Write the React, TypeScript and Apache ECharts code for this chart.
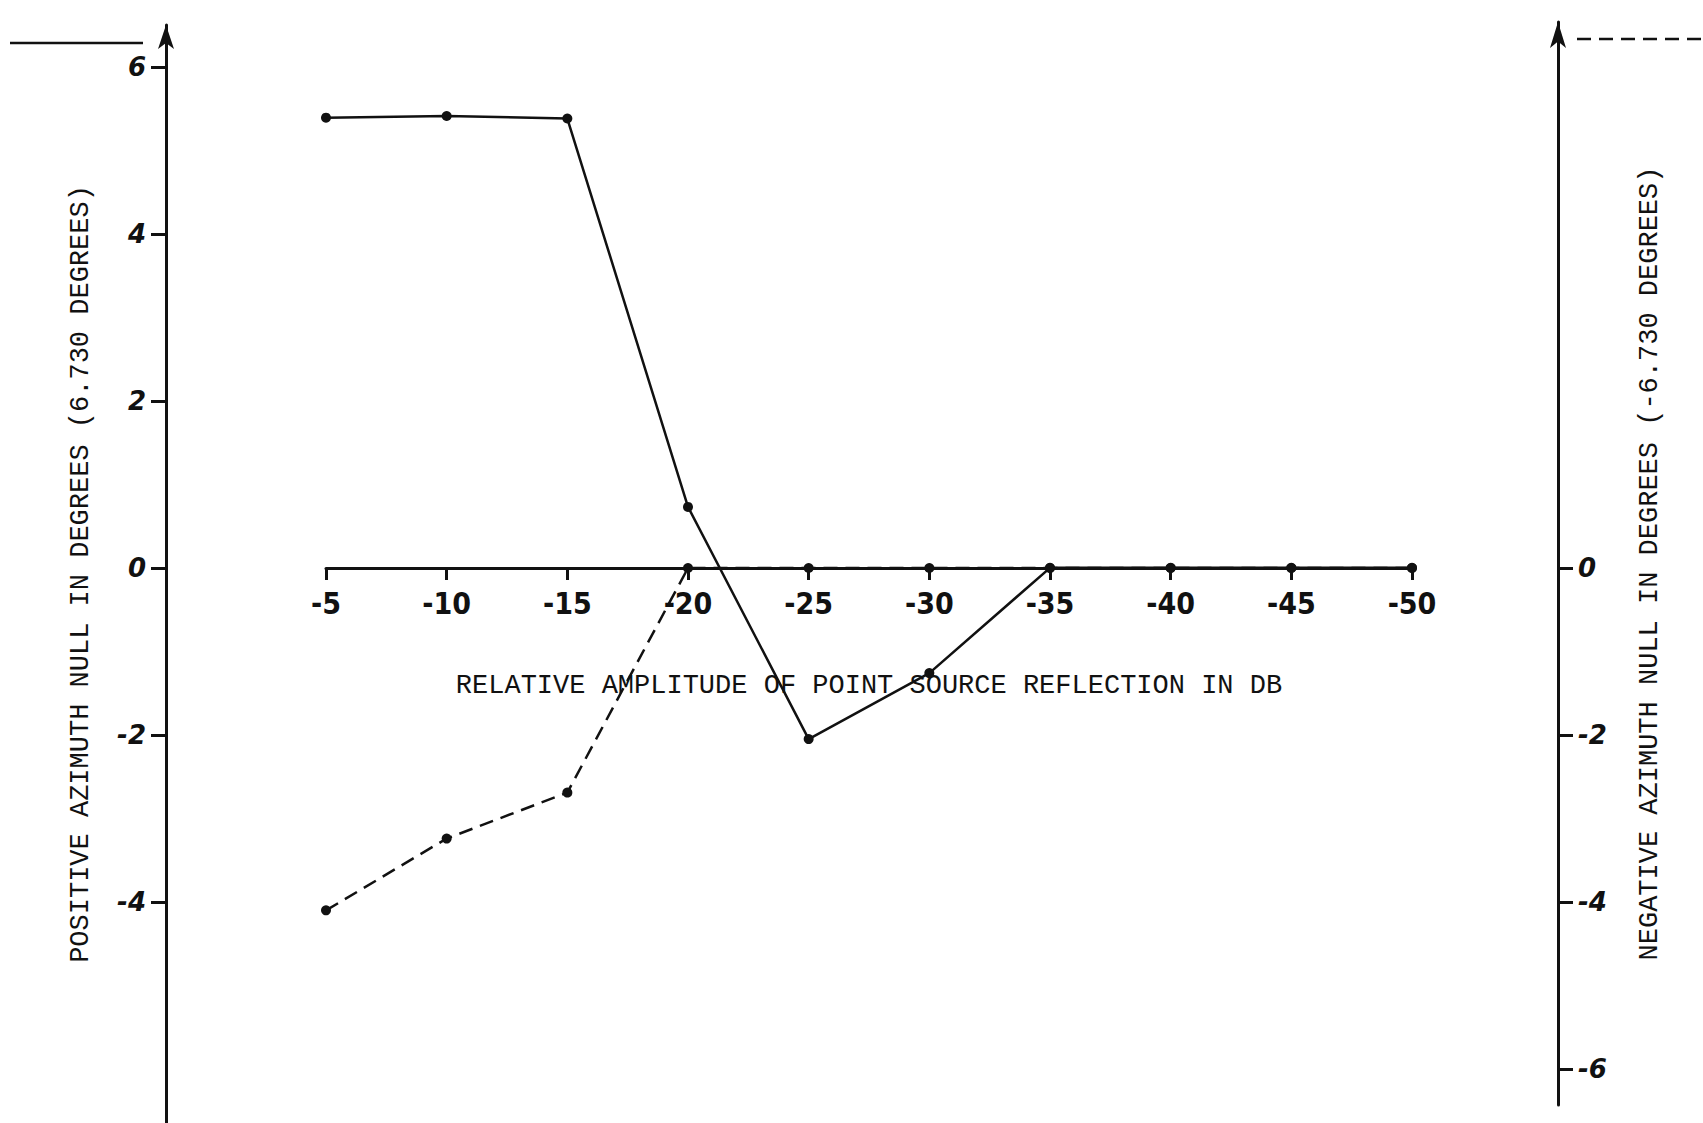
import React, { useEffect, useRef } from "react";
import * as echarts from "echarts";

const xValues = [-5, -10, -15, -20, -25, -30, -35, -40, -45, -50];
const positiveNull = [5.39, 5.41, 5.38, 0.73, -2.05, -1.26, 0, 0, 0, 0];
const negativeNull = [-4.1, -3.24, -2.69, 0, 0, 0, 0, 0, 0, 0];
const leftTicks = [-4, -2, 0, 2, 4, 6];
const rightTicks = [-6, -4, -2, 0];
const xTitle = "RELATIVE AMPLITUDE OF POINT SOURCE REFLECTION IN DB";
const leftTitle = "POSITIVE AZIMUTH NULL IN DEGREES (6.730 DEGREES)";
const rightTitle = "NEGATIVE AZIMUTH NULL IN DEGREES (-6.730 DEGREES)";

const INK = "#111";
const typewriter = "'Liberation Mono', 'DejaVu Sans Mono', monospace";
const tickFont = "'DejaVu Sans', sans-serif";
const narrowFont = "'Liberation Sans Narrow', 'DejaVu Sans Condensed', 'Roboto Condensed', sans-serif";

export default function App() {
  const ref = useRef<HTMLDivElement>(null);
  useEffect(() => {
    if (!ref.current) return;
    const chart = echarts.init(ref.current, undefined, { renderer: "svg" });
    const titleStyle = {
      fontFamily: typewriter,
      fontSize: 27,
      color: INK,
      fontWeight: "normal" as const,
    };
    const yLabel = {
      margin: 20,
      fontFamily: tickFont,
      fontSize: 26,
      fontWeight: "bold" as const,
      fontStyle: "italic" as const,
      color: INK,
    };
    const gridBase = { left: 326, right: 291, containLabel: false, outerBoundsMode: "none" };
    chart.setOption({
      animation: false,
      backgroundColor: "#ffffff",
      grid: [
        { ...gridBase, top: 25, bottom: 0 },
        { ...gridBase, top: 22, bottom: 18 },
        { ...gridBase, top: 300, bottom: 555 },
      ],
      xAxis: [
        { gridIndex: 0, type: "value", inverse: true, min: -50, max: -5, interval: 5, show: false },
        { gridIndex: 1, type: "value", inverse: true, min: -50, max: -5, interval: 5, show: false },
        {
          gridIndex: 2,
          type: "value",
          position: "bottom",
          inverse: true,
          min: -50,
          max: -5,
          interval: 5,
          axisLine: { show: true, onZero: false, lineStyle: { color: INK, width: 3 } },
          axisTick: { show: true, length: 12, lineStyle: { color: INK, width: 3 } },
          axisLabel: {
            margin: 20,
            fontFamily: narrowFont,
            fontWeight: "bold",
            fontSize: 30,
            color: INK,
          },
          splitLine: { show: false },
          name: xTitle,
          nameLocation: "middle",
          nameGap: 104,
          nameTextStyle: titleStyle,
        },
      ],
      yAxis: [
        {
          gridIndex: 0,
          type: "value",
          position: "left",
          offset: 160,
          min: -6.647,
          max: 6.5,
          axisLine: {
            show: true,
            onZero: false,
            symbol: ["none", "arrow"],
            symbolSize: [12, 24],
            lineStyle: { color: INK, width: 3 },
          },
          axisTick: { show: true, length: 15, customValues: leftTicks, lineStyle: { color: INK, width: 3 } },
          axisLabel: { ...yLabel, customValues: leftTicks },
          splitLine: { show: false },
          name: leftTitle,
          nameLocation: "middle",
          nameRotate: 90,
          nameGap: 72,
          nameTextStyle: titleStyle,
        },
        {
          gridIndex: 1,
          type: "value",
          position: "right",
          offset: 146,
          min: -6.431,
          max: 6.539,
          axisLine: {
            show: true,
            onZero: false,
            symbol: ["none", "arrow"],
            symbolSize: [12, 26],
            lineStyle: { color: INK, width: 3 },
          },
          axisTick: { show: true, length: 15, customValues: rightTicks, lineStyle: { color: INK, width: 3 } },
          axisLabel: { ...yLabel, customValues: rightTicks },
          splitLine: { show: false },
          name: rightTitle,
          nameLocation: "middle",
          nameRotate: 90,
          nameGap: 78,
          nameTextStyle: titleStyle,
        },
        { gridIndex: 2, type: "value", min: -1, max: 0, show: false },
      ],
      graphic: [
        {
          type: "line",
          shape: { x1: 10, y1: 43, x2: 143, y2: 43 },
          style: { stroke: INK, lineWidth: 2.5 },
        },
        {
          type: "line",
          shape: { x1: 1577, y1: 39, x2: 1703, y2: 39 },
          style: { stroke: INK, lineWidth: 2.5, lineDash: [14, 8] },
        },
      ],
      series: [
        {
          name: "Positive azimuth null",
          type: "line",
          xAxisIndex: 0,
          yAxisIndex: 0,
          data: xValues.map((x, i) => [x, positiveNull[i]]),
          symbol: "circle",
          symbolSize: 10,
          clip: false,
          lineStyle: { color: INK, width: 2.5 },
          itemStyle: { color: INK },
          z: 3,
        },
        {
          name: "Negative azimuth null",
          type: "line",
          xAxisIndex: 1,
          yAxisIndex: 1,
          data: xValues.map((x, i) => [x, negativeNull[i]]),
          symbol: "circle",
          symbolSize: 10,
          clip: false,
          lineStyle: { color: INK, width: 2.5, type: [14, 8] },
          itemStyle: { color: INK },
          z: 2,
        },
      ],
    });
    return () => chart.dispose();
  }, []);
  return (
    <div
      ref={ref}
      style={{ position: "absolute", left: 0, top: 0, width: 1703, height: 1123, background: "#fff" }}
    />
  );
}
